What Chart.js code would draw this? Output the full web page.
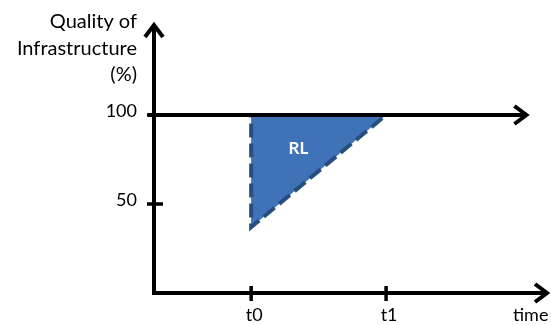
<!DOCTYPE html>
<html><head><meta charset="utf-8">
<script src="https://cdn.jsdelivr.net/npm/chart.js@4"></script>
<style>html,body{margin:0;padding:0;background:#fff}</style>
</head><body>
<canvas id="c" width="551" height="325"></canvas>
<script>
// ---- data ----
const timeTickValues = [1, 2];
const timeTickLabels = ['t0', 't1'];
const qualityTickValues = [50, 100];
const qualityTickLabels = ['50', '100'];
const rlTime = [1, 2, 1, 1];
const rlQuality = [100, 100, 37, 100];
const fullQuality = 100;
const yTitleLines = ['Quality of', 'Infrastructure', '(%)'];
const xTitle = 'time';
const regionLabel = 'RL';

const FONT = 'Lato, "Open Sans", sans-serif';

function arrowHead(ctx, x, y, dir) {
  const L = 12, W = 9;
  ctx.beginPath();
  if (dir === 'right') {
    ctx.moveTo(x - L, y - W); ctx.lineTo(x, y); ctx.lineTo(x - L, y + W);
  } else {
    ctx.moveTo(x - W, y + L); ctx.lineTo(x, y); ctx.lineTo(x + W, y + L);
  }
  ctx.stroke();
}

const axesPlugin = {
  id: 'axesPlugin',
  afterDatasetsDraw(chart) {
    const ctx = chart.ctx, xs = chart.scales.x, ys = chart.scales.y;
    const a = chart.chartArea;
    const x0 = xs.getPixelForValue(xs.min), y0 = ys.getPixelForValue(0);
    ctx.save();
    ctx.strokeStyle = '#000'; ctx.lineWidth = 4; ctx.lineCap = 'butt'; ctx.lineJoin = 'miter';
    // y axis
    ctx.beginPath(); ctx.moveTo(x0, y0 + 2); ctx.lineTo(x0, a.top + 1); ctx.stroke();
    arrowHead(ctx, x0, a.top, 'up');
    // x axis
    ctx.beginPath(); ctx.moveTo(x0 - 2, y0); ctx.lineTo(a.right - 1, y0); ctx.stroke();
    arrowHead(ctx, a.right - 1, y0, 'right');
    // 100% line
    const y100 = ys.getPixelForValue(fullQuality);
    const xEnd = xs.getPixelForValue(3.04);
    ctx.beginPath(); ctx.moveTo(x0 - 6, y100); ctx.lineTo(xEnd, y100); ctx.stroke();
    arrowHead(ctx, xEnd, y100, 'right');
    // y ticks
    ctx.lineWidth = 3.5;
    ctx.font = '18px ' + FONT; ctx.fillStyle = '#000';
    ctx.textAlign = 'right'; ctx.textBaseline = 'alphabetic';
    qualityTickValues.forEach((v, i) => {
      const py = ys.getPixelForValue(v);
      ctx.beginPath(); ctx.moveTo(x0 - 7, py); ctx.lineTo(x0 + 9, py); ctx.stroke();
      ctx.fillText(qualityTickLabels[i], 137, py + 2);
    });
    // x ticks
    ctx.textAlign = 'center';
    timeTickValues.forEach((v, i) => {
      const px = xs.getPixelForValue(v);
      ctx.beginPath(); ctx.moveTo(px, y0 - 7); ctx.lineTo(px, y0 + 8); ctx.stroke();
      ctx.fillText(timeTickLabels[i], px + 3, y0 + 28);
    });
    // titles
    ctx.textAlign = 'left';
    ctx.fillText(xTitle, 513, y0 + 28);
    ctx.font = '20px ' + FONT;
    ctx.textAlign = 'right';
    yTitleLines.forEach((t, i) => ctx.fillText(t, 137, 28 + i * 26.5));
    // region label
    ctx.font = 'bold 17px ' + FONT; ctx.fillStyle = '#fff';
    ctx.textAlign = 'center'; ctx.textBaseline = 'middle';
    ctx.fillText(regionLabel, xs.getPixelForValue(1.35), ys.getPixelForValue(81));
    ctx.restore();
  }
};

new Chart(document.getElementById('c'), {
  type: 'scatter',
  data: {
    datasets: [{
      data: rlTime.map((t, i) => ({ x: t, y: rlQuality[i] })),
      showLine: true,
      fill: 'shape',
      backgroundColor: '#3F72B6',
      borderColor: '#264E7E',
      borderWidth: 4,
      borderDash: [14, 6],
      pointRadius: 0,
      tension: 0
    }]
  },
  options: {
    responsive: false,
    animation: false,
    devicePixelRatio: 1,
    layout: { padding: { left: 154, right: 3, top: 25, bottom: 32 } },
    plugins: { legend: { display: false }, tooltip: { enabled: false } },
    scales: {
      x: { type: 'linear', display: false, min: 0.28, max: 3.2 },
      y: { type: 'linear', display: false, min: 0, max: 150.56 }
    }
  },
  plugins: [axesPlugin]
});
</script>
</body></html>
